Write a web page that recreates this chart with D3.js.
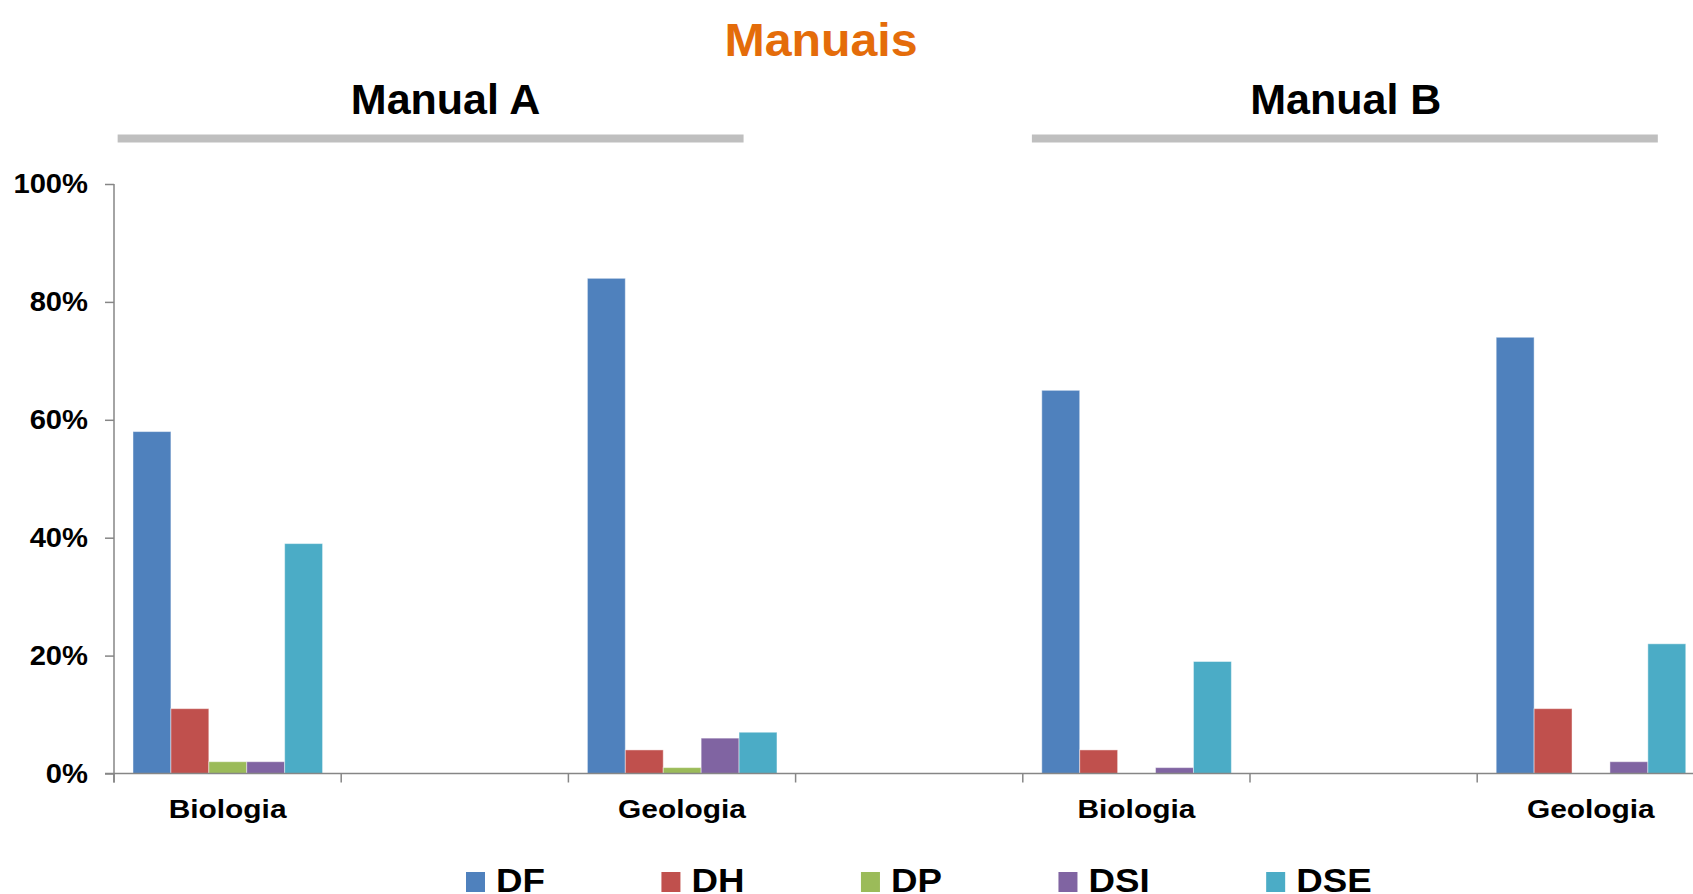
<!DOCTYPE html>
<html>
<head>
<meta charset="utf-8">
<script src="https://cdn.jsdelivr.net/npm/d3@7"></script>
<style>
  html, body { margin: 0; padding: 0; background: #ffffff; }
  svg { display: block; font-family: "Liberation Sans", Arial, Helvetica, sans-serif; font-weight: bold; }
</style>
</head>
<body>
<svg id="chart" width="1693" height="894"></svg>
<script>
// Category slots (empty slots separate the subjects, as in the source workbook)
const categoryLabels = ["Biologia", "", "Geologia", "", "Biologia", "", "Geologia"];
const seriesNames = ["DF", "DH", "DP", "DSI", "DSE"];
const seriesColors = ["#4F81BD", "#C0504D", "#9BBB59", "#8064A2", "#4BACC6"];

// Percentages per slot (null = empty slot)
const DF  = [58, null, 84, null, 65, null, 74];
const DH  = [11, null, 4,  null, 4,  null, 11];
const DP  = [2,  null, 1,  null, 0,  null, 0];
const DSI = [2,  null, 6,  null, 1,  null, 2];
const DSE = [39, null, 7,  null, 19, null, 22];

const yTicks = [0, 20, 40, 60, 80, 100];
const manualGroups = ["Manual A", "Manual B"];
const manualStartSlots = [0, 4];
const chartTitle = "Manuais";

const seriesValues = [DF, DH, DP, DSI, DSE];

const svg = d3.select("#chart");

const plot = { left: 114, top: 184, bottom: 773.5, step: 227.2 };

// Horizontally widened text, anchored at (x, y)
function placeText(sel, x, y, sx) {
  return sel.attr("x", 0).attr("y", 0)
    .attr("transform", `translate(${x},${y}) scale(${sx},1)`);
}

const x0 = d3.scaleBand()
  .domain(d3.range(categoryLabels.length))
  .range([plot.left, plot.left + plot.step * categoryLabels.length])
  .padding(0);

const x1 = d3.scaleBand()
  .domain(seriesNames)
  .range([x0.bandwidth() * 0.0836, x0.bandwidth() * 0.918]);

const y = d3.scaleLinear().domain([0, 100]).range([plot.bottom, plot.top]);

const color = d3.scaleOrdinal().domain(seriesNames).range(seriesColors);

// Title
placeText(svg.append("text"), 821, 56, 1.05)
  .attr("text-anchor", "middle")
  .attr("font-size", 46)
  .attr("fill", "#E46C0A")
  .text(chartTitle);

// Manual headers with grey rules under them
const headerLineOffsets = [0.016, 0.04];
const headerTextShift = [15, 1];
manualGroups.forEach((name, i) => {
  const start = x0(manualStartSlots[i]) + plot.step * headerLineOffsets[i];
  const end = start + plot.step * 2.755;
  svg.append("rect")
    .attr("x", start).attr("y", 134.5)
    .attr("width", end - start).attr("height", 8)
    .attr("fill", "#BFBFBF");
  svg.append("text")
    .attr("x", (start + end) / 2 + headerTextShift[i]).attr("y", 114)
    .attr("text-anchor", "middle")
    .attr("font-size", 43)
    .attr("fill", "#000")
    .text(name);
});

// Bars
const rows = categoryLabels.map((label, i) => ({
  slot: i,
  values: seriesNames.map((s, j) => ({ series: s, value: seriesValues[j][i] }))
}));

const groups = svg.append("g").selectAll("g")
  .data(rows)
  .join("g")
  .attr("transform", d => `translate(${x0(d.slot)},0)`);

groups.selectAll("rect")
  .data(d => d.values.filter(v => v.value !== null && v.value > 0))
  .join("rect")
  .attr("x", d => x1(d.series))
  .attr("y", d => y(d.value))
  .attr("width", x1.bandwidth())
  .attr("height", d => y(0) - y(d.value))
  .attr("fill", d => color(d.series))
  .attr("stroke", "rgba(255,255,255,0.45)")
  .attr("stroke-width", 1);

// Y axis
const yAxis = svg.append("g")
  .attr("transform", `translate(${plot.left},0)`)
  .call(d3.axisLeft(y).tickValues(yTicks).tickFormat(d => d + "%").tickSize(9).tickPadding(17));
yAxis.select(".domain").attr("stroke", "#868686").attr("stroke-width", 1.5)
  .attr("d", `M0,${y(100)}V${y(0) + 9}`);
yAxis.selectAll(".tick line").attr("stroke", "#868686").attr("stroke-width", 1.5);
yAxis.selectAll(".tick text")
  .attr("font-size", 27)
  .attr("font-family", "'Liberation Sans', Arial, sans-serif")
  .attr("font-weight", "bold")
  .attr("fill", "#000")
  .each(function () {
    const t = d3.select(this);
    const tx = +t.attr("x");
    t.attr("x", 0).attr("transform", `translate(${tx},0) scale(1.08,1)`);
  });

// X axis (ticks at the band boundaries)
const xAxisG = svg.append("g").attr("transform", `translate(0,${plot.bottom})`);
xAxisG.append("line")
  .attr("x1", plot.left - 9).attr("x2", x0.range()[1])
  .attr("stroke", "#868686").attr("stroke-width", 1.5);
xAxisG.selectAll("line.tick")
  .data(d3.range(categoryLabels.length + 1))
  .join("line")
  .attr("class", "tick")
  .attr("x1", d => plot.left + d * x0.step())
  .attr("x2", d => plot.left + d * x0.step())
  .attr("y1", 0).attr("y2", 9)
  .attr("stroke", "#868686").attr("stroke-width", 1.5);
xAxisG.selectAll("text")
  .data(categoryLabels.map((l, i) => ({ l, i })).filter(d => d.l))
  .join("text")
  .each(function (d) {
    placeText(d3.select(this), x0(d.i) + x0.bandwidth() / 2, 44, 1.15);
  })
  .attr("text-anchor", "middle")
  .attr("font-size", 26)
  .attr("fill", "#000")
  .text(d => d.l);

// Legend
const legend = svg.append("g").attr("transform", "translate(466,0)");
let lx = 0;
seriesNames.forEach((s, i) => {
  const item = legend.append("g").attr("transform", `translate(${lx},0)`);
  item.append("rect")
    .attr("x", 0).attr("y", 872)
    .attr("width", 19).attr("height", 20)
    .attr("fill", seriesColors[i]);
  const t = placeText(item.append("text"), 30, 892, 1.08)
    .attr("font-size", 34)
    .attr("fill", "#000")
    .text(s);
  lx += 30 + t.node().getComputedTextLength() * 1.08 + 116.5;
});
</script>
</body>
</html>
